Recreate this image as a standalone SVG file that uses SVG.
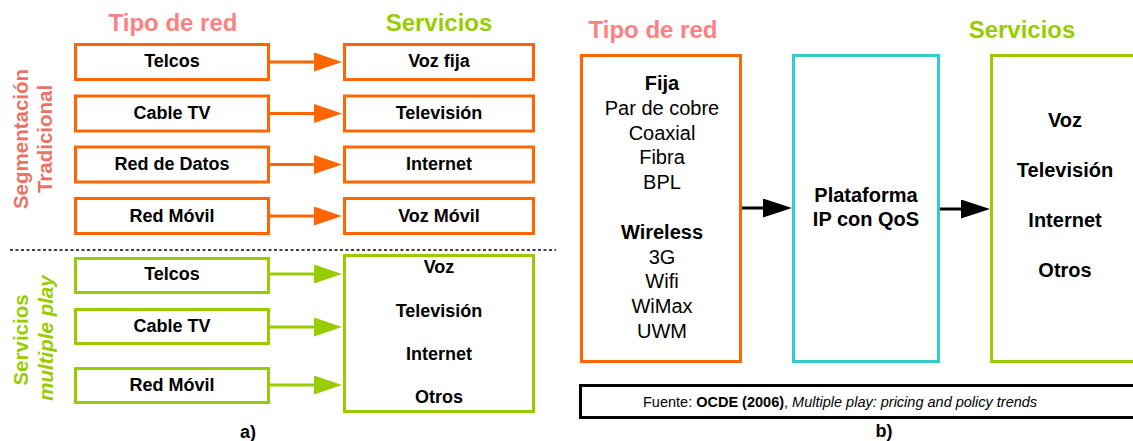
<svg xmlns="http://www.w3.org/2000/svg" width="1133" height="441" viewBox="0 0 1133 441">
<style>
text{font-family:"Liberation Sans",Arial,sans-serif;}
.title{font-size:24px;font-weight:bold;text-anchor:middle;}
.pink{fill:#FF8080;}
.lime{fill:#99CC00;}
.vpink{fill:#EA7366;}
.lbl{font-size:18px;font-weight:bold;text-anchor:middle;fill:#000;}
.big{font-size:20px;text-anchor:middle;fill:#000;}
.b{font-weight:bold;}
.vt{font-size:20.5px;font-weight:bold;text-anchor:middle;}
.bo{fill:#fff;stroke:#FF6600;stroke-width:3;}
.bg{fill:#fff;stroke:#99CC00;stroke-width:3;}
.bt{fill:#fff;stroke:#33CCCC;stroke-width:3;}
.bk{fill:#fff;stroke:#000;stroke-width:3;}
.lo{stroke:#FF6600;stroke-width:3;marker-end:url(#ho);}
.lg{stroke:#99CC00;stroke-width:3;marker-end:url(#hg);}
.lk{stroke:#000;stroke-width:3;marker-end:url(#hk);}
</style>
<defs>
<marker id="ho" markerUnits="userSpaceOnUse" markerWidth="28" markerHeight="19" refX="0" refY="9.5" orient="auto"><path d="M0,0 L28,9.5 L0,19 z" fill="#FF6600"/></marker>
<marker id="hg" markerUnits="userSpaceOnUse" markerWidth="28" markerHeight="19" refX="0" refY="9.5" orient="auto"><path d="M0,0 L28,9.5 L0,19 z" fill="#99CC00"/></marker>
<marker id="hk" markerUnits="userSpaceOnUse" markerWidth="29" markerHeight="19" refX="0" refY="9.5" orient="auto"><path d="M0,0 L29,9.5 L0,19 z" fill="#000"/></marker>
</defs>
<rect width="1133" height="441" fill="#fff"/>

<!-- Part a titles -->
<text class="title pink" x="173" y="31">Tipo de red</text>
<text class="title lime" x="439" y="31">Servicios</text>
<g transform="translate(28,139) rotate(-90)"><text class="vt vpink" x="0" y="0">Segmentación</text></g>
<g transform="translate(52,139) rotate(-90)"><text class="vt vpink" x="0" y="0">Tradicional</text></g>
<g transform="translate(28,340) rotate(-90)"><text class="vt lime" x="0" y="0">Servicios</text></g>
<g transform="translate(53,338) rotate(-90)"><text class="vt lime" x="0" y="0" font-style="italic">multiple play</text></g>
<line x1="10" y1="250" x2="556" y2="250" stroke="#000" stroke-width="1.5" stroke-dasharray="3,2.5"/>

<g id="connectors">
<line class="lo" x1="270" y1="62" x2="314" y2="62"/>
<line class="lo" x1="270" y1="113.5" x2="314" y2="113.5"/>
<line class="lo" x1="270" y1="164.5" x2="314" y2="164.5"/>
<line class="lo" x1="270" y1="216" x2="314" y2="216"/>
<line class="lg" x1="270" y1="274" x2="314" y2="274"/>
<line class="lg" x1="270" y1="327" x2="314" y2="327"/>
<line class="lg" x1="270" y1="385" x2="314" y2="385"/>
<line class="lk" x1="742" y1="208" x2="763" y2="208"/>
<line class="lk" x1="940" y1="209" x2="961" y2="209"/>
</g>

<g id="a-telcos"><rect class="bo" x="75.5" y="44.5" width="193" height="35"/><text class="lbl" x="172" y="67">Telcos</text></g>
<g id="a-cabletv"><rect class="bo" x="75.5" y="96" width="193" height="35"/><text class="lbl" x="172" y="119">Cable TV</text></g>
<g id="a-reddatos"><rect class="bo" x="75.5" y="147" width="193" height="35"/><text class="lbl" x="172" y="170">Red de Datos</text></g>
<g id="a-redmovil"><rect class="bo" x="75.5" y="198.5" width="193" height="35"/><text class="lbl" x="172" y="221.5">Red Móvil</text></g>
<g id="a-vozfija"><rect class="bo" x="344.5" y="44.5" width="189" height="35"/><text class="lbl" x="439" y="67">Voz fija</text></g>
<g id="a-television"><rect class="bo" x="344.5" y="96" width="189" height="35"/><text class="lbl" x="439" y="119">Televisión</text></g>
<g id="a-internet"><rect class="bo" x="344.5" y="147" width="189" height="35"/><text class="lbl" x="439" y="170">Internet</text></g>
<g id="a-vozmovil"><rect class="bo" x="344.5" y="198.5" width="189" height="35"/><text class="lbl" x="439" y="221.5">Voz Móvil</text></g>

<g id="m-telcos"><rect class="bg" x="75.5" y="258.5" width="193" height="34"/><text class="lbl" x="172" y="280">Telcos</text></g>
<g id="m-cabletv"><rect class="bg" x="75.5" y="309.5" width="193" height="34"/><text class="lbl" x="172" y="332">Cable TV</text></g>
<g id="m-redmovil"><rect class="bg" x="75.5" y="368.5" width="193" height="34"/><text class="lbl" x="172" y="391">Red Móvil</text></g>
<g id="m-servicios"><rect class="bg" x="344.5" y="255.5" width="189" height="156"/>
<text class="lbl" x="439" y="273">Voz</text><text class="lbl" x="439" y="317">Televisión</text><text class="lbl" x="439" y="360">Internet</text><text class="lbl" x="439" y="403">Otros</text></g>
<text class="lbl" x="248" y="438">a)</text>

<!-- Part b -->
<text class="title pink" x="653" y="38">Tipo de red</text>
<text class="title lime" x="1022" y="38">Servicios</text>
<g id="b-tipored"><rect class="bo" x="581.5" y="55.5" width="159" height="306"/>
<text class="big b" x="662" y="90">Fija</text>
<text class="big" x="662" y="114.8">Par de cobre</text>
<text class="big" x="662" y="139.6">Coaxial</text>
<text class="big" x="662" y="164.4">Fibra</text>
<text class="big" x="662" y="189.2">BPL</text>
<text class="big b" x="662" y="238.8">Wireless</text>
<text class="big" x="662" y="263.6">3G</text>
<text class="big" x="662" y="288.4">Wifi</text>
<text class="big" x="662" y="313.2">WiMax</text>
<text class="big" x="662" y="338">UWM</text></g>
<g id="b-plataforma"><rect class="bt" x="793.5" y="55.5" width="145" height="306"/>
<text class="big b" x="866" y="202">Plataforma</text>
<text class="big b" x="866" y="226">IP con QoS</text></g>
<g id="b-servicios"><rect class="bg" x="991.5" y="55.5" width="200" height="306"/>
<text class="big b" x="1065" y="127">Voz</text>
<text class="big b" x="1065" y="177">Televisión</text>
<text class="big b" x="1065" y="227">Internet</text>
<text class="big b" x="1065" y="277">Otros</text></g>
<g id="b-fuente"><rect class="bk" x="580.5" y="385.5" width="600" height="32"/>
<text x="643" y="407" font-size="14.5" fill="#000">Fuente: <tspan font-weight="bold">OCDE (2006)</tspan>, <tspan font-style="italic">Multiple play: pricing and policy trends</tspan></text></g>
<text class="lbl" x="884" y="437">b)</text>
</svg>
